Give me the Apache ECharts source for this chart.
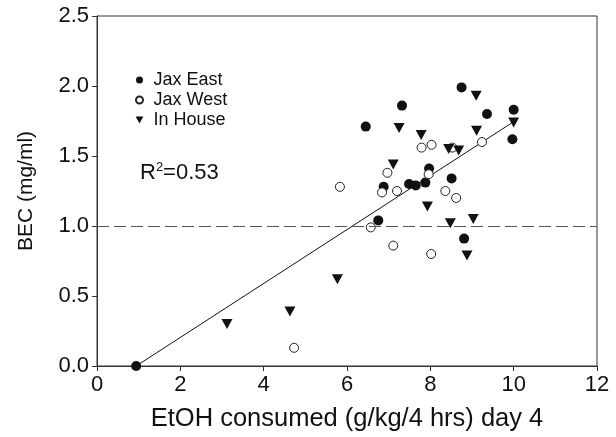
<!DOCTYPE html>
<html>
<head>
<meta charset="utf-8">
<script src="https://cdn.jsdelivr.net/npm/echarts@6/dist/echarts.min.js"></script>
<style>
html,body{margin:0;padding:0;background:#fff;}
#c{width:616px;height:437px;}
</style>
</head>
<body>
<div id="c"></div>
<script>
// ---- data ----
const seriesNames = ['Jax East', 'Jax West', 'In House'];
const jaxEastX = [0.94, 6.45, 7.32, 8.75, 9.36, 10.00, 9.97, 7.97, 8.51, 7.49, 7.65, 7.88, 6.88, 6.75, 8.81];
const jaxEastY = [0.00, 1.71, 1.86, 1.99, 1.80, 1.83, 1.62, 1.41, 1.34, 1.30, 1.29, 1.31, 1.28, 1.04, 0.91];
const jaxWestX = [4.73, 5.83, 6.57, 6.84, 6.97, 7.20, 7.11, 7.79, 8.03, 8.53, 9.24, 7.96, 8.36, 8.62, 8.02];
const jaxWestY = [0.13, 1.28, 0.99, 1.24, 1.38, 1.25, 0.86, 1.56, 1.58, 1.56, 1.60, 1.37, 1.25, 1.20, 0.80];
const inHouseX = [3.12, 4.63, 5.77, 7.25, 7.11, 7.78, 9.10, 9.11, 8.44, 8.68, 10.00, 7.93, 8.48, 9.03, 8.88];
const inHouseY = [0.30, 0.39, 0.62, 1.70, 1.44, 1.65, 1.93, 1.68, 1.55, 1.54, 1.74, 1.14, 1.02, 1.05, 0.79];
const regressionX = [0.94, 10.0];
const regressionY = [0.0, 1.745];
const referenceY = 1.0;
const rSquared = '0.53';
const xTitle = 'EtOH consumed (g/kg/4 hrs) day 4';
const yTitle = 'BEC (mg/ml)';

const zip = (xs, ys) => xs.map((x, i) => [x, ys[i]]);
const FONT = 'Liberation Sans, Arial, Helvetica, sans-serif';
const DOWN_TRIANGLE = 'path://M0,0 L10,0 L5,9 Z';

const chart = echarts.init(document.getElementById('c'), null, {renderer: 'canvas'});
chart.setOption({
  animation: false,
  backgroundColor: '#fff',
  textStyle: {fontFamily: FONT, color: '#111'},
  grid: {left: 97, right: 19, top: 16, bottom: 71, show: true, borderColor: '#333', borderWidth: 1,
         backgroundColor: 'transparent', containLabel: false, outerBoundsMode: 'none'},
  legend: {
    orient: 'vertical', left: 130, top: 66, itemWidth: 18, itemHeight: 7, itemGap: 2,
    data: [
      {name: seriesNames[0], icon: 'circle'},
      {name: seriesNames[1], icon: 'circle'},
      {name: seriesNames[2], icon: DOWN_TRIANGLE}
    ],
    textStyle: {fontFamily: FONT, fontSize: 18, color: '#111'}
  },
  xAxis: {
    type: 'value', min: 0, max: 12, interval: 2,
    name: xTitle, nameLocation: 'middle', nameGap: 40,
    nameTextStyle: {fontFamily: FONT, fontSize: 25.5, color: '#111'},
    axisLine: {show: true, lineStyle: {color: '#333', width: 1}},
    axisTick: {show: true, inside: false, length: 5, lineStyle: {color: '#333'}},
    axisLabel: {fontFamily: FONT, fontSize: 22, color: '#111', margin: 8},
    splitLine: {show: false}
  },
  yAxis: {
    type: 'value', min: 0, max: 2.5, interval: 0.5,
    name: yTitle, nameLocation: 'middle', nameGap: 60, nameRotate: 90,
    nameTextStyle: {fontFamily: FONT, fontSize: 21, color: '#111'},
    axisLine: {show: true, lineStyle: {color: '#333', width: 1}},
    axisTick: {show: true, inside: false, length: 5, lineStyle: {color: '#333'}},
    axisLabel: {fontFamily: FONT, fontSize: 22, color: '#111', margin: 8, formatter: v => v.toFixed(1)},
    splitLine: {show: false}
  },
  graphic: [{
    type: 'text', left: 140, top: 161,
    style: {
      text: '{r|R}{s|2}{r|=' + rSquared + '}',
      rich: {
        r: {fontFamily: FONT, fontSize: 22, fill: '#111', verticalAlign: 'bottom'},
        s: {fontFamily: FONT, fontSize: 13, fill: '#111', verticalAlign: 'top', padding: [0, 0, 10, 0]}
      }
    }
  }],
  series: [
    {
      name: 'regression', type: 'line', data: zip(regressionX, regressionY),
      symbol: 'none', lineStyle: {color: '#111', width: 1}, z: 1,
      markLine: {
        silent: true, symbol: ['none', 'none'], label: {show: false},
        lineStyle: {color: '#555', width: 1, type: [12, 5]},
        data: [{yAxis: referenceY}]
      }
    },
    {
      name: seriesNames[0], type: 'scatter', data: zip(jaxEastX, jaxEastY),
      symbol: 'circle', symbolSize: 10,
      itemStyle: {color: '#111', borderColor: '#111', borderWidth: 0, opacity: 1}, z: 3
    },
    {
      name: seriesNames[1], type: 'scatter', data: zip(jaxWestX, jaxWestY),
      symbol: 'circle', symbolSize: 9,
      itemStyle: {color: '#fff', borderColor: '#222', borderWidth: 1, opacity: 1}, z: 3
    },
    {
      name: seriesNames[2], type: 'scatter', data: zip(inHouseX, inHouseY),
      symbol: 'triangle', symbolSize: [11, 10], symbolRotate: 180,
      itemStyle: {color: '#111', opacity: 1}, z: 3
    }
  ]
});
</script>
</body>
</html>
